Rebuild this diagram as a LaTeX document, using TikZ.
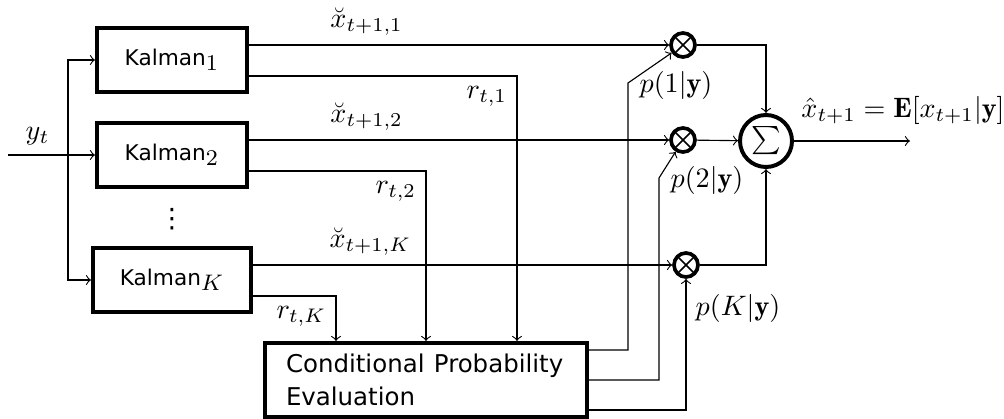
\documentclass[tikz,border=0pt]{standalone}
\usepackage{fontspec}
\setsansfont{DejaVu Sans}
\newcommand{\kalfont}{\fontsize{7.7pt}{9pt}\sffamily\selectfont}
\newcommand{\cpefont}{\fontsize{8.7pt}{12.5pt}\sffamily\selectfont}

\begin{document}
\begin{tikzpicture}[>=to, x=0.125mm, y=-0.125mm,
  kbox/.style={draw, line width=1.4pt, minimum width=18.75mm, minimum height=8mm, inner sep=0pt,
    font=\fontsize{11pt}{13pt}\selectfont},
  mult/.style={draw, circle, line width=1.3pt, minimum size=3mm, inner sep=0pt,
    path picture={\draw[line width=0.6pt]
      (path picture bounding box.north west) -- (path picture bounding box.south east)
      (path picture bounding box.north east) -- (path picture bounding box.south west);}},
  sumnode/.style={draw, circle, line width=1.4pt, minimum size=6.5mm, inner sep=0pt}]
  \useasboundingbox (0,0) rectangle (1004,419);
  % Kalman filter bank
  \node[kbox] (k1) at (172,60) {{\kalfont Kalman}$_1$};
  \node[kbox] (k2) at (172,155) {{\kalfont Kalman}$_2$};
  \node[kbox, minimum width=19.75mm] (kK) at (172,280) {{\kalfont Kalman}$_K$};
  \node[font=\fontsize{9.5pt}{11pt}\sffamily] (dots) at (172,219) {⋮};
  \node[draw, line width=1.4pt, minimum width=40.25mm, minimum height=9.25mm,
    text width=35mm, align=left] (cpe) at (426,380)
    {\cpefont Conditional Probability\\Evaluation};
  % Multipliers and sum
  \node[mult] (m1) at (683,45) {};
  \node[mult] (m2) at (683,140) {};
  \node[mult] (mK) at (686,265) {};
  \node[sumnode] (s) at (766,141) {\small$\sum$};
  % Input
  \coordinate (in) at (8,155);
  \coordinate (br) at (68,155);
  \draw[->] (in) -- (k2) node[pos=0.34, above] {$y_t$};
  \draw[->] (br) |- (k1);
  \draw[->] (br) |- (kK);
  % Predictions
  \draw[->] (k1.east |- m1) -- (m1) node[pos=0.28, above] {$\breve{x}_{t+1,1}$};
  \draw[->] (k2.east |- m2) -- (m2) node[pos=0.28, above] {$\breve{x}_{t+1,2}$};
  \draw[->] (kK.east |- mK) -- (mK) node[pos=0.28, above] {$\breve{x}_{t+1,K}$};
  % Residuals
  \coordinate (r1) at (517,0);
  \coordinate (r2) at (426,0);
  \coordinate (rK) at (336,0);
  \draw[->] ([yshift=-2mm]k1.east) -| (r1 |- cpe.north) node[pos=0.5, below left] {$r_{t,1}$};
  \draw[->] ([yshift=-2mm]k2.east) -| (r2 |- cpe.north) node[pos=0.5, below left] {$r_{t,2}$};
  \draw[->] ([yshift=-2mm]kK.east) -| (rK |- cpe.north) node[pos=0.5, below left] {$r_{t,K}$};
  % Weights
  \coordinate (b1) at (628,83);
  \coordinate (b2) at (659,178);
  \draw[->] ([yshift=3.75mm]cpe.east) -| (b1) -- (m1);
  \draw[->] (cpe.east) -| (b2) -- (m2);
  \draw[->] ([yshift=-3.75mm]cpe.east) -| (mK);
  \node (p1) at (676,85) {$p(1|\mathbf{y})$};
  \node (p2) at (707,180) {$p(2|\mathbf{y})$};
  \node (pK) at (738,308) {$p(K|\mathbf{y})$};
  % Output
  \draw[->] (m1) -| (s);
  \draw[->] (m2) -- (s);
  \draw[->] (mK) -| (s);
  \coordinate (out) at (910,141);
  \draw[->] (s) -- (out);
  \node (xhat) at (903,110) {$\hat{x}_{t+1} = \mathbf{E}[x_{t+1}|\mathbf{y}]$};
\end{tikzpicture}
\end{document}
